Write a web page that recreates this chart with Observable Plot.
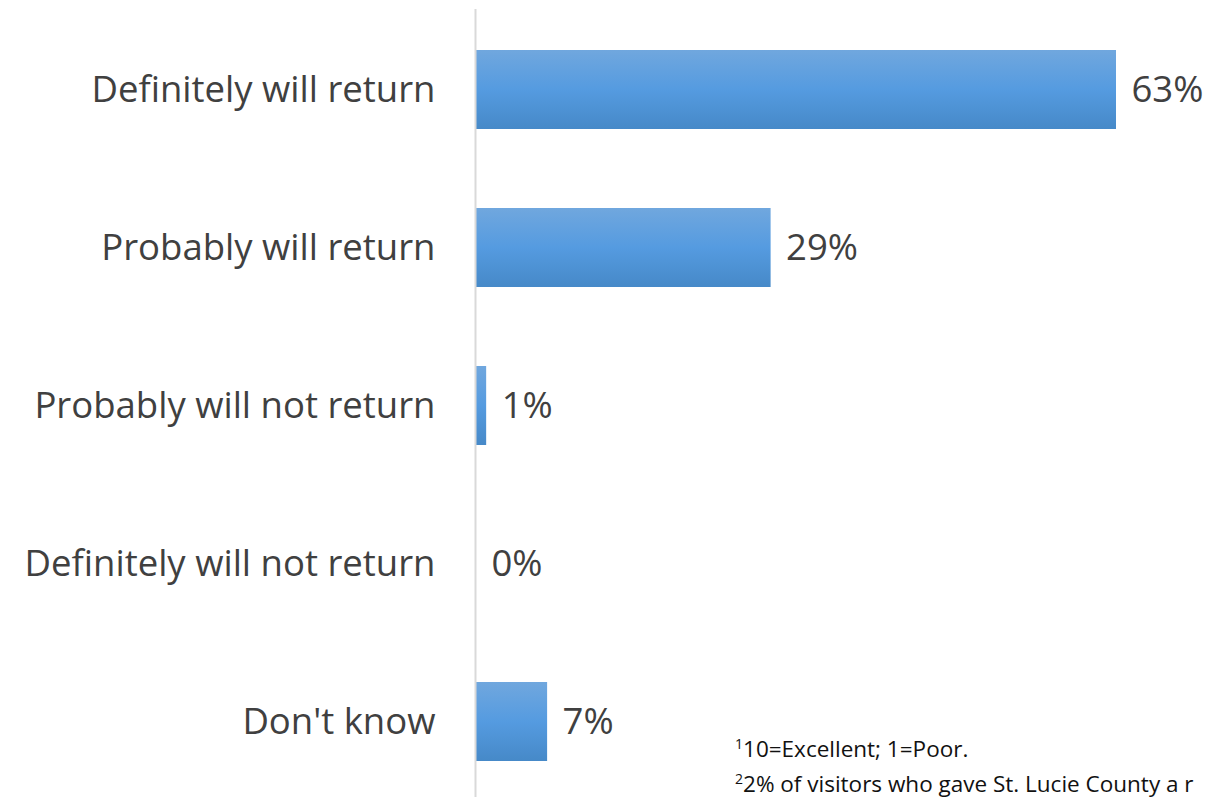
<!DOCTYPE html>
<html>
<head>
<meta charset="utf-8">
<script src="https://cdn.jsdelivr.net/npm/d3@7"></script>
<script src="https://cdn.jsdelivr.net/npm/@observablehq/plot@0.6"></script>
<style>
  html, body { margin: 0; padding: 0; background: #fff; overflow: hidden; }
  #wrap { position: relative; width: 1210px; height: 797px; overflow: hidden; }
  #notes { position: absolute; left: 735px; top: 731px; font-family: "Open Sans", sans-serif; font-size: 22.5px; line-height: 35px; color: #111; white-space: nowrap; }
  #notes sup { font-size: 14px; vertical-align: 8px; line-height: 0; }
</style>
</head>
<body>
<div id="wrap">
  <div id="chart"></div>
  <div id="notes">
    <div><sup>1</sup>10=Excellent; 1=Poor.</div>
    <div><sup>2</sup>2% of visitors who gave St. Lucie County a r</div>
  </div>
</div>
<script>
const categories = ["Definitely will return", "Probably will return", "Probably will not return", "Definitely will not return", "Don't know"];
const values = [63, 29, 1, 0, 7];
const labels = ["63%", "29%", "1%", "0%", "7%"];

const data = categories.map((c, i) => ({category: c, value: values[i], label: labels[i]}));

const font = "'Open Sans', sans-serif";

const chart = Plot.plot({
  width: 1210,
  height: 797,
  marginTop: 9,
  marginBottom: 0,
  marginLeft: 475,
  marginRight: 0,
  style: {fontFamily: font, background: "#fff"},
  x: {domain: [0, 63], range: [476, 1116], axis: null},
  y: {domain: categories, range: [10, 801], paddingInner: 0.5, paddingOuter: 0.25, label: null},
  marks: [
    Plot.axisY({tickSize: 0, tickPadding: 40, fontSize: 36.5, color: "#404040", label: null}),
    Plot.barX(data, {x: "value", y: "category", fill: "url(#barGrad)"}),
    Plot.ruleX([0], {stroke: "#d9d9d9", strokeWidth: 2, dx: -1}),
    Plot.text(data, {x: "value", y: "category", text: "label", textAnchor: "start", dx: 15, fontSize: 36.5, fill: "#404040"})
  ]
});

const ns = "http://www.w3.org/2000/svg";
const defs = document.createElementNS(ns, "defs");
defs.innerHTML = '<linearGradient id="barGrad" x1="0" y1="0" x2="0" y2="1">' +
  '<stop offset="0" stop-color="#70a7de"/>' +
  '<stop offset="0.5" stop-color="#559be0"/>' +
  '<stop offset="1" stop-color="#4689c8"/>' +
  '</linearGradient>';
chart.insertBefore(defs, chart.firstChild);
chart.querySelectorAll("[aria-label='y-axis tick label'] text, [aria-label='text'] text").forEach(t => t.style.fill = "#404040");
document.getElementById("chart").appendChild(chart);
</script>
</body>
</html>
